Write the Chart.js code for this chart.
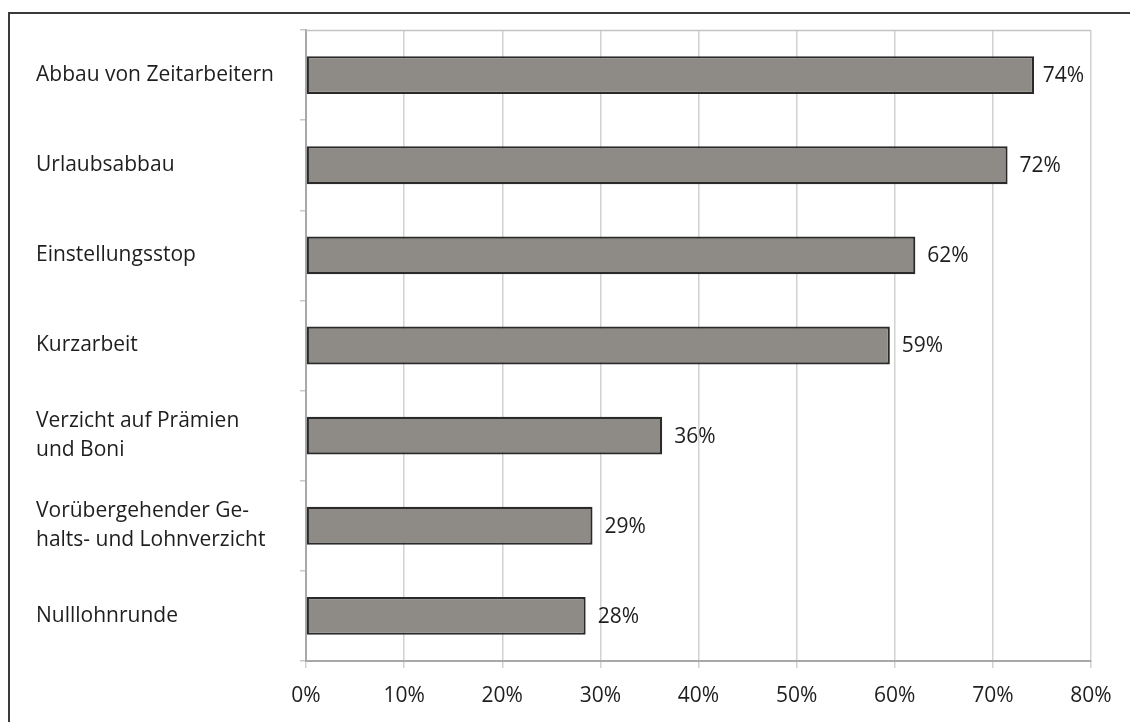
<!DOCTYPE html>
<html>
<head>
<meta charset="utf-8">
<script src="https://cdn.jsdelivr.net/npm/chart.js@4/dist/chart.umd.min.js"></script>
<style>
  html, body { margin: 0; padding: 0; background: #fff; }
  #wrap { position: relative; width: 1130px; height: 722px; overflow: hidden; }
  #frame { position: absolute; left: 8px; top: 12px; width: 1200px; height: 800px;
           border-left: 2px solid #3a3a3a; border-top: 2px solid #3a3a3a; }
  canvas { position: absolute; left: 0; top: 0; }
</style>
</head>
<body>
<div id="wrap">
  <div id="frame"></div>
  <canvas id="c" width="1130" height="722"></canvas>
</div>
<script>
const categories = [
  'Abbau von Zeitarbeitern',
  'Urlaubsabbau',
  'Einstellungsstop',
  'Kurzarbeit',
  ['Verzicht auf Prämien', 'und Boni'],
  ['Vorübergehender Ge-', 'halts- und Lohnverzicht'],
  'Nulllohnrunde'
];
const values = [74.2, 71.5, 62.1, 59.5, 36.3, 29.2, 28.5];
const valueLabels = ['74%', '72%', '62%', '59%', '36%', '29%', '28%'];
const xTicks = [0, 10, 20, 30, 40, 50, 60, 70, 80];

const FONT = "'Open Sans', sans-serif";

const frameBox = {
  id: 'frameBox',
  beforeDatasetsDraw(chart) {
    const a = chart.chartArea, ctx = chart.ctx;
    ctx.save();
    ctx.strokeStyle = '#c4c4c4';
    ctx.lineWidth = 1.5;
    ctx.beginPath();
    ctx.moveTo(a.left, a.top + 0.5);
    ctx.lineTo(a.right, a.top + 0.5);
    ctx.stroke();
    ctx.restore();
  }
};

const valueText = {
  id: 'valueText',
  afterDatasetsDraw(chart) {
    const ctx = chart.ctx, a = chart.chartArea;
    const meta = chart.getDatasetMeta(0);
    ctx.save();
    ctx.font = '21px ' + FONT;
    ctx.fillStyle = '#1e1e1e';
    ctx.textBaseline = 'middle';
    ctx.textAlign = 'left';
    meta.data.forEach((el, i) => {
      const t = valueLabels[i];
      const w = ctx.measureText(t).width;
      const x = Math.min(el.x + 12, a.right - 7 - w);
      ctx.fillText(t, x, el.y + 1);
    });
    ctx.restore();
  }
};

new Chart(document.getElementById('c'), {
  type: 'bar',
  data: {
    labels: categories,
    datasets: [{
      data: values,
      backgroundColor: '#8e8b87',
      borderColor: '#2a2a2a',
      borderWidth: 2.2,
      borderSkipped: false,
      barPercentage: 0.42,
      categoryPercentage: 1.0
    }]
  },
  options: {
    indexAxis: 'y',
    responsive: false,
    animation: false,
    layout: { padding: { left: 36, top: 30, right: 39, bottom: 0 } },
    plugins: { legend: { display: false }, tooltip: { enabled: false } },
    scales: {
      x: {
        min: 0, max: 80,
        afterBuildTicks(s) { s.ticks = xTicks.map(v => ({ value: v })); },
        afterFit(s) { s.height = 61; },
        grid: { color: '#d2d2d2', lineWidth: 1.5, tickLength: 7, tickColor: '#d2d2d2' },
        border: { color: '#a8a8a8', width: 2 },
        ticks: {
          padding: 15,
          color: '#1e1e1e',
          font: { family: FONT, size: 21 },
          callback: v => v + '%'
        }
      },
      y: {
        afterFit(s) { s.width = 270; },
        grid: { drawOnChartArea: false, offset: true, tickLength: 6, color: '#c8c8c8', lineWidth: 1.5 },
        border: { color: '#a8a8a8', width: 2 },
        ticks: {
          crossAlign: 'far',
          color: '#1e1e1e',
          font: { family: FONT, size: 21, lineHeight: 1.4 }
        }
      }
    }
  },
  plugins: [frameBox, valueText]
});
</script>
</body>
</html>
